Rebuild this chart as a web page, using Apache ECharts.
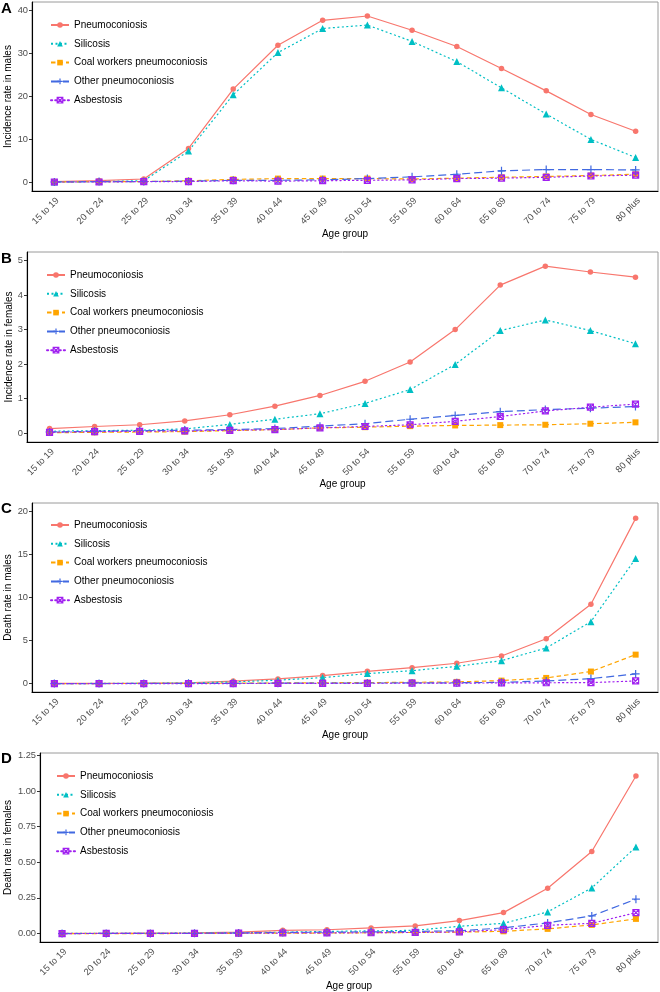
<!DOCTYPE html>
<html>
<head>
<meta charset="utf-8">
<script src="https://cdn.jsdelivr.net/npm/echarts@6/dist/echarts.min.js"></script>
<style>
    html, body { margin: 0; padding: 0; background: #fff; }
    #chart { width: 660px; height: 992px; }
</style>
</head>
<body>
<div id="chart"></div>
<script>
    // age groups on x axis
    const ageGroups = ['15 to 19', '20 to 24', '25 to 29', '30 to 34', '35 to 39', '40 to 44', '45 to 49',
        '50 to 54', '55 to 59', '60 to 64', '65 to 69', '70 to 74', '75 to 79', '80 plus'];
    const diseases = ['Pneumoconiosis', 'Silicosis', 'Coal workers pneumoconiosis', 'Other pneumoconiosis', 'Asbestosis'];

    // A - incidence, males
    const incMalePneumo = [0.1, 0.3, 0.7, 7.8, 21.6, 31.8, 37.6, 38.6, 35.3, 31.5, 26.4, 21.2, 15.7, 11.8];
    const incMaleSilico = [0.0, 0.1, 0.3, 7.2, 20.3, 30.1, 35.7, 36.5, 32.7, 28.0, 21.9, 15.8, 9.9, 5.7];
    const incMaleCoal = [0.0, 0.1, 0.1, 0.3, 0.6, 0.8, 0.8, 0.8, 0.7, 0.9, 1.1, 1.3, 1.5, 1.8];
    const incMaleOther = [0.0, 0.1, 0.1, 0.2, 0.4, 0.4, 0.5, 0.8, 1.2, 1.8, 2.6, 2.9, 2.9, 2.8];
    const incMaleAsbest = [0.0, 0.0, 0.1, 0.1, 0.3, 0.2, 0.3, 0.4, 0.5, 0.8, 0.9, 1.1, 1.4, 1.6];

    // B - incidence, females
    const incFemalePneumo = [0.13, 0.19, 0.24, 0.35, 0.53, 0.78, 1.09, 1.50, 2.06, 3.00, 4.29, 4.84, 4.67, 4.52];
    const incFemaleSilico = [0.05, 0.07, 0.08, 0.12, 0.25, 0.40, 0.56, 0.86, 1.26, 1.99, 2.97, 3.28, 2.97, 2.59];
    const incFemaleCoal = [0.01, 0.02, 0.03, 0.04, 0.07, 0.10, 0.15, 0.17, 0.20, 0.22, 0.23, 0.24, 0.27, 0.31];
    const incFemaleOther = [0.03, 0.05, 0.07, 0.08, 0.10, 0.13, 0.20, 0.27, 0.40, 0.51, 0.62, 0.68, 0.72, 0.77];
    const incFemaleAsbest = [0.02, 0.04, 0.05, 0.06, 0.08, 0.10, 0.15, 0.19, 0.24, 0.34, 0.48, 0.64, 0.75, 0.84];

    // C - deaths, males
    const deathMalePneumo = [0.02, 0.03, 0.05, 0.10, 0.30, 0.54, 0.93, 1.43, 1.85, 2.36, 3.20, 5.20, 9.20, 19.15];
    const deathMaleSilico = [0.01, 0.02, 0.03, 0.07, 0.20, 0.40, 0.70, 1.16, 1.50, 2.00, 2.66, 4.13, 7.18, 14.50];
    const deathMaleCoal = [0.01, 0.01, 0.02, 0.03, 0.05, 0.08, 0.10, 0.12, 0.15, 0.20, 0.35, 0.66, 1.40, 3.36];
    const deathMaleOther = [0.01, 0.01, 0.02, 0.03, 0.04, 0.05, 0.06, 0.07, 0.08, 0.10, 0.15, 0.31, 0.58, 1.12];
    const deathMaleAsbest = [0.00, 0.00, 0.00, 0.00, 0.01, 0.02, 0.03, 0.04, 0.05, 0.06, 0.08, 0.10, 0.12, 0.31];

    // D - deaths, females
    const deathFemalePneumo = [0.001, 0.002, 0.004, 0.006, 0.010, 0.023, 0.027, 0.040, 0.054, 0.091, 0.147, 0.318, 0.575, 1.105];
    const deathFemaleSilico = [0.001, 0.001, 0.002, 0.003, 0.005, 0.010, 0.015, 0.019, 0.023, 0.051, 0.072, 0.152, 0.320, 0.607];
    const deathFemaleCoal = [0.000, 0.000, 0.000, 0.001, 0.002, 0.003, 0.004, 0.006, 0.008, 0.010, 0.016, 0.033, 0.061, 0.103];
    const deathFemaleOther = [0.000, 0.001, 0.001, 0.002, 0.004, 0.008, 0.010, 0.012, 0.015, 0.020, 0.040, 0.075, 0.124, 0.241];
    const deathFemaleAsbest = [0.000, 0.001, 0.001, 0.002, 0.003, 0.004, 0.005, 0.006, 0.008, 0.012, 0.028, 0.058, 0.072, 0.147];

    // y tick labels
    const ticksA = [0, 10, 20, 30, 40];
    const ticksB = [0, 1, 2, 3, 4, 5];
    const ticksC = [0, 5, 10, 15, 20];
    const ticksD = [0, 0.25, 0.5, 0.75, 1, 1.25];

    const FONT = 'Liberation Sans, Arial, sans-serif';
    const colors = ['#F8766D', '#00BFC4', '#FFA500', '#4169E1', '#A020F0'];
    const dashes = ['solid', [2, 2.5], [4.5, 3], [8, 4], [1.2, 3]];
    const symbols = [
        'circle',
        'triangle',
        'rect',
        'path://M5,0L5,10M0,5L10,5',
        'path://M0,0L10,0L10,10L0,10ZM0,0L10,10M10,0L0,10'
    ];
    const symbolSizes = [5.5, 7, 6, 8, 6];

    const panels = [
        { letter: 'A', ytitle: 'Incidence rate in males', data: [incMalePneumo, incMaleSilico, incMaleCoal, incMaleOther, incMaleAsbest],
          grid: { left: 32, top: 2, width: 626, height: 189 }, min: -2.09, max: 41.86, ticks: ticksA, dec: 0,
          nameGap: 19, xNameGap: 38, legend: { left: 50, top: 20 }, letterY: 1 },
        { letter: 'B', ytitle: 'Incidence rate in females', data: [incFemalePneumo, incFemaleSilico, incFemaleCoal, incFemaleOther, incFemaleAsbest],
          grid: { left: 27, top: 252, width: 631, height: 190 }, min: -0.26, max: 5.25, ticks: ticksB, dec: 0,
          nameGap: 13, xNameGap: 37, legend: { left: 46, top: 270 }, letterY: 251 },
        { letter: 'C', ytitle: 'Death rate in males', data: [deathMalePneumo, deathMaleSilico, deathMaleCoal, deathMaleOther, deathMaleAsbest],
          grid: { left: 32, top: 503, width: 626, height: 189 }, min: -0.97, max: 20.93, ticks: ticksC, dec: 0,
          nameGap: 18.5, xNameGap: 38, legend: { left: 50, top: 520 }, letterY: 501 },
        { letter: 'D', ytitle: 'Death rate in females', data: [deathFemalePneumo, deathFemaleSilico, deathFemaleCoal, deathFemaleOther, deathFemaleAsbest],
          grid: { left: 40, top: 753, width: 618, height: 189 }, min: -0.059, max: 1.266, ticks: ticksD, dec: 2,
          nameGap: 26.5, xNameGap: 39, legend: { left: 56, top: 771 }, letterY: 751 }
    ];

    function symbolStyle(k) {
        return k >= 3
            ? { color: 'rgba(0,0,0,0)', borderColor: colors[k], borderWidth: 1.2 }
            : { color: colors[k] };
    }

    const grids = [], xAxes = [], yAxes = [], series = [], legends = [], graphics = [];
    panels.forEach(function (p, i) {
        grids.push(Object.assign({
            show: true, borderColor: '#9a9a9a', borderWidth: 1, backgroundColor: '#fff',
            containLabel: false, outerBoundsMode: 'none'
        }, p.grid));
        xAxes.push({
            type: 'category',
            gridIndex: i,
            data: ageGroups,
            boundaryGap: true,
            name: 'Age group',
            nameLocation: 'middle',
            nameGap: p.xNameGap,
            nameMoveOverlap: false,
            nameTextStyle: { color: '#000', fontSize: 10, fontFamily: FONT },
            axisLine: { onZero: false, lineStyle: { color: '#000', width: 1.1 } },
            axisTick: { alignWithLabel: true, length: 3, lineStyle: { color: '#333' } },
            axisLabel: {
                rotate: 45, margin: 5, color: '#4d4d4d', fontSize: 9.3, fontFamily: FONT, interval: 0,
                align: 'right', verticalAlign: 'top'
            },
            splitLine: { show: false }
        });
        yAxes.push({
            type: 'value',
            gridIndex: i,
            min: p.min,
            max: p.max,
            name: p.ytitle,
            nameLocation: 'middle',
            nameGap: p.nameGap,
            nameMoveOverlap: false,
            nameTextStyle: { color: '#000', fontSize: 10, fontFamily: FONT },
            axisLine: { show: true, lineStyle: { color: '#000', width: 1.1 } },
            axisTick: { show: true, length: 3, customValues: p.ticks, lineStyle: { color: '#333' } },
            axisLabel: {
                customValues: p.ticks, margin: 4, color: '#4d4d4d', fontSize: 9.3, fontFamily: FONT,
                formatter: function (v) { return Number(v).toFixed(p.dec); }
            },
            splitLine: { show: false }
        });
        p.data.forEach(function (vals, k) {
            series.push({
                name: diseases[k],
                type: 'line',
                xAxisIndex: i,
                yAxisIndex: i,
                data: vals,
                symbol: symbols[k],
                symbolSize: symbolSizes[k],
                showAllSymbol: true,
                lineStyle: { color: colors[k], width: 1.2, type: dashes[k], cap: k === 4 ? 'round' : 'butt' },
                itemStyle: symbolStyle(k),
                emphasis: { disabled: true },
                animation: false
            });
        });
        legends.push({
            orient: 'vertical',
            left: p.legend.left,
            top: p.legend.top,
            padding: 0,
            data: diseases.map(function (d, k) {
                return { name: d, itemStyle: symbolStyle(k) };
            }),
            itemWidth: 18,
            itemHeight: 7,
            itemGap: 8.8,
            textStyle: { color: '#000', fontSize: 10, fontFamily: FONT },
            selectedMode: false
        });
        graphics.push({
            type: 'text',
            left: 1,
            top: p.letterY,
            style: { text: p.letter, font: 'bold 15px ' + FONT, fill: '#000' }
        });
    });

    const chart = echarts.init(document.getElementById('chart'), null, { renderer: 'canvas' });
    chart.setOption({
        animation: false,
        backgroundColor: '#fff',
        grid: grids,
        xAxis: xAxes,
        yAxis: yAxes,
        legend: legends,
        graphic: graphics,
        series: series
    });
</script>
</body>
</html>
